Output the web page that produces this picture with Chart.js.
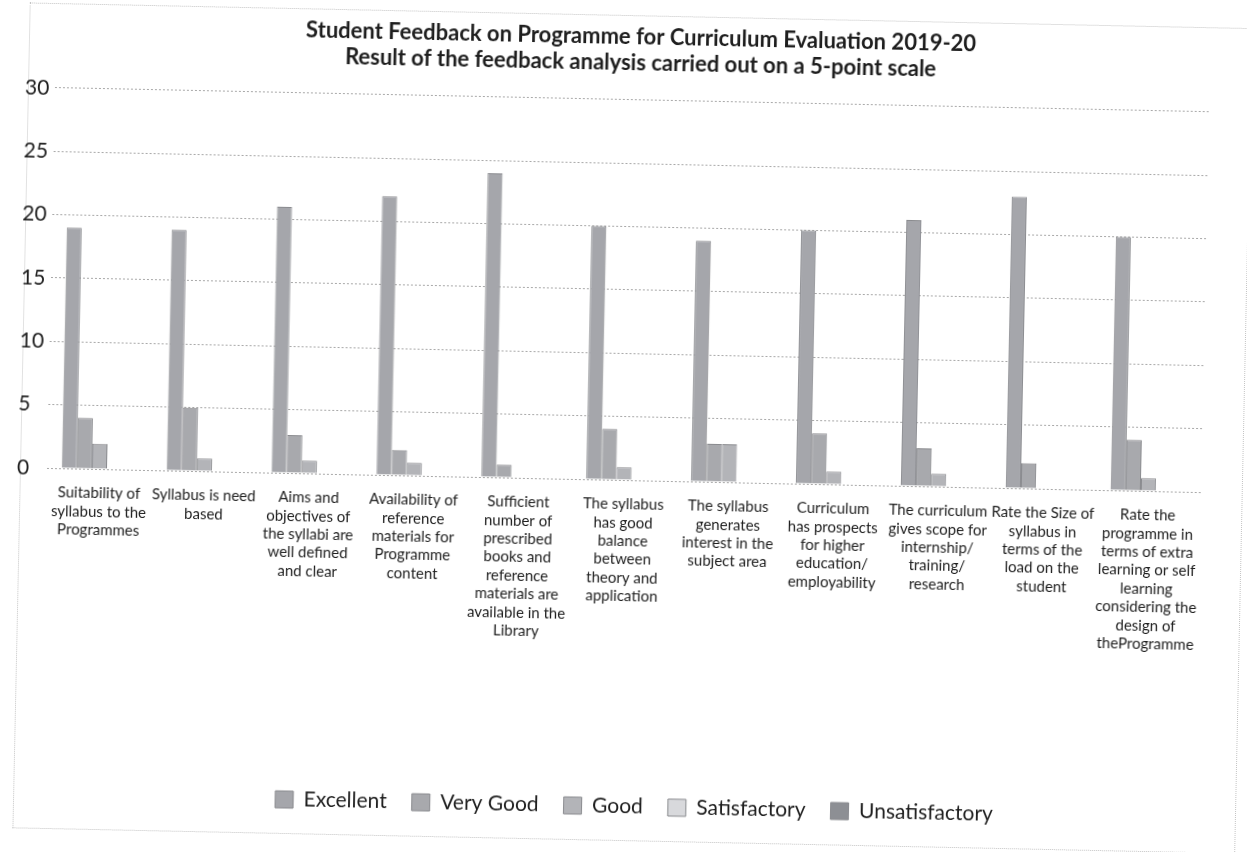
<!DOCTYPE html>
<html>
<head>
<meta charset="utf-8">
<script src="https://cdn.jsdelivr.net/npm/chart.js@4.4.1/dist/chart.umd.min.js"></script>
<style>
	body { margin: 0; background: #fff; overflow: hidden; }
	#page { position: absolute; left: 0; top: 0; width: 1247px; height: 852px;
		transform: rotate(1.2deg); transform-origin: 623px 426px; }
	#frame { position: absolute; left: 21px; top: 15px; width: 1221px; height: 824px;
		border: 1px dotted #c4c4c4; }
	#chartBox { position: absolute; left: 0; top: 0; width: 1247px; height: 852px; }
</style>
</head>
<body>
<div id="page">
	<div id="frame"></div>
	<div id="chartBox"><canvas id="feedbackChart"></canvas></div>
</div>

<script>
// questions asked in the feedback form (one label line per array item)
var questions = [
	["Suitability of", "syllabus to the", "Programmes"],
	["Syllabus is need", "based"],
	["Aims and", "objectives of", "the syllabi are", "well defined", "and clear"],
	["Availability of", "reference", "materials for", "Programme", "content"],
	["Sufficient", "number of", "prescribed", "books and", "reference", "materials are", "available in the", "Library"],
	["The syllabus", "has good", "balance", "between", "theory and", "application"],
	["The syllabus", "generates", "interest in the", "subject area"],
	["Curriculum", "has prospects", "for higher", "education/", "employability"],
	["The curriculum", "gives scope for", "internship/", "training/", "research"],
	["Rate the Size of", "syllabus in", "terms of the", "load on the", "student"],
	["Rate the", "programme in", "terms of extra", "learning or self", "learning", "considering the", "design of", "theProgramme"]
];

var seriesNames = ["Excellent", "Very Good", "Good", "Satisfactory", "Unsatisfactory"];

var excellent      = [19, 19, 21, 22, 24, 20, 19, 20, 21, 23, 20];
var veryGood       = [4, 5, 3, 2, 1, 4, 3, 4, 3, 2, 4];
var good           = [2, 1, 1, 1, 0, 1, 3, 1, 1, 0, 1];
var satisfactory   = [0, 0, 0, 0, 0, 0, 0, 0, 0, 0, 0];
var unsatisfactory = [0, 0, 0, 0, 0, 0, 0, 0, 0, 0, 0];

var yTicks = [0, 5, 10, 15, 20, 25, 30];

var fills = ["#a5a6ab", "#a8a9ad", "#b3b4b8", "#d8d9dc", "#8d8f94"];
var values = [excellent, veryGood, good, satisfactory, unsatisfactory];

var datasets = [];
for (var i = 0; i < seriesNames.length; i++) {
	datasets.push({
		label: seriesNames[i],
		data: values[i],
		backgroundColor: fills[i],
		borderColor: "#8a8b8f",
		borderWidth: 1
	});
}

var font = "Lato, 'Open Sans', sans-serif";

// title and legend sit a bit right of the plot centre in the scan
var nudge = {
	id: "nudge",
	afterLayout: function(chart) {
		chart.titleBlock.left += 8;
		chart.titleBlock.right += 8;
		chart.legend.left += 17;
		chart.legend.right += 17;
	}
};

new Chart(document.getElementById("feedbackChart"), {
	type: "bar",
	data: { labels: questions, datasets: datasets },
	plugins: [nudge],
	options: {
		responsive: true,
		maintainAspectRatio: false,
		animation: false,
		categoryPercentage: 0.72,
		barPercentage: 1.0,
		layout: { padding: { left: 18, right: 45, top: 8, bottom: 25 } },
		plugins: {
			title: {
				display: true,
				fullSize: false,
				text: ["Student Feedback on Programme for Curriculum Evaluation 2019-20",
					"Result of the feedback analysis carried out on a 5-point scale"],
				color: "#1e1e1e",
				font: { family: font, size: 22, weight: "bold", lineHeight: 1.18 },
				padding: { top: 16, bottom: 24 }
			},
			legend: {
				position: "bottom",
				fullSize: false,
				labels: {
					color: "#1e1e1e",
					font: { family: font, size: 21 },
					boxWidth: 18,
					boxHeight: 17,
					padding: 25
				}
			},
			tooltip: { enabled: false }
		},
		scales: {
			x: {
				grid: { display: false },
				border: { display: false },
				ticks: {
					autoSkip: false,
					maxRotation: 0,
					minRotation: 0,
					padding: 7,
					color: "#1e1e1e",
					font: { family: font, size: 15, lineHeight: 1.23 }
				},
				afterFit: function(scale) { scale.height = 291; }
			},
			y: {
				min: 0,
				max: 30,
				afterBuildTicks: function(scale) {
					scale.ticks = yTicks.map(function(v) { return { value: v }; });
				},
				border: { display: false, dash: [2, 2] },
				grid: { color: "#a8a8a8", lineWidth: 1, drawTicks: false },
				ticks: {
					crossAlign: "far",
					padding: 4,
					color: "#1e1e1e",
					font: { family: font, size: 21 }
				},
				afterFit: function(scale) { scale.width = 30; }
			}
		}
	}
});
</script>
</body>
</html>
